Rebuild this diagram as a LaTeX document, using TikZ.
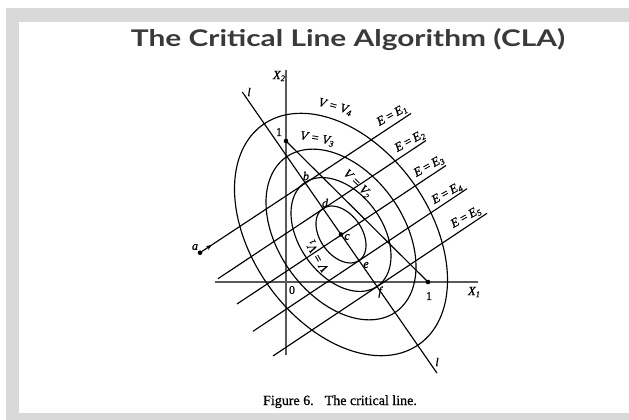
\documentclass[tikz,border=0pt]{standalone}
\usepackage{fontspec}
\setmainfont{Liberation Serif}
\newfontfamily\titlefont{Lato}
\newfontfamily\lblfont{Liberation Serif}[FakeBold=0.8]
\newfontfamily\capfont{Liberation Serif}[FakeBold=0.7]
\usetikzlibrary{arrows.meta,decorations.markings,calc}
\definecolor{framegray}{HTML}{D9D9D9}
\definecolor{titlegray}{HTML}{3A3A3A}
\newcommand{\lsub}[1]{\raisebox{-0.35ex}{\fontsize{8.5}{9}\selectfont #1}}
\begin{document}
\begin{tikzpicture}[x=1pt,y=-1pt,
  curve/.style={line width=1.15pt, black},
  axisline/.style={line width=1.2pt, black!65},
  lbl/.style={font=\lblfont\itshape\fontsize{12.5}{13}\selectfont, inner sep=0.5pt},
  elbl/.style={font=\lblfont\itshape\fontsize{12.5}{14}\selectfont, inner sep=0.5pt, rotate=29},
  ptlbl/.style={font=\lblfont\itshape\fontsize{12}{13}\selectfont, inner sep=0.5pt},
  numlbl/.style={font=\lblfont\fontsize{12}{13}\selectfont, inner sep=0.5pt},
  dot/.style={circle, fill=black, inner sep=0pt, minimum size=4.6pt},
]
\useasboundingbox (0,0) rectangle (629,420);
\fill[framegray] (6,8) rectangle (629,420);
\fill[white] (19,22) rectangle (629,413);

% title
\node[text=titlegray, anchor=base, inner sep=0pt] (title) at (348,47)
  {\resizebox{434pt}{18pt}{\titlefont\bfseries The Critical Line Algorithm (CLA)}};

% key points
\coordinate (O) at (286,282);
\coordinate (c) at (341,234.5);
\coordinate (b) at (305,182.5);
\coordinate (d) at (323,208.5);
\coordinate (e) at (359,260.5);
\coordinate (f) at (377,286.5);
\coordinate (ltop) at (242.3,92);
\coordinate (lbot) at (436.9,373);
\coordinate (X2top) at (286,70);
\coordinate (X2bot) at (286,355);
\coordinate (X1left) at (215,282);
\coordinate (X1right) at (478,282);
\coordinate (one2) at (286,141);
\coordinate (one1) at (428,282);
\coordinate (a) at (200,252.7);
\coordinate (E1r) at (411,113.5);
\coordinate (E2l) at (218,278.7);
\coordinate (E2r) at (426,140.5);
\coordinate (E3l) at (237,304);
\coordinate (E3r) at (446,165.5);
\coordinate (E4l) at (253,331.3);
\coordinate (E4r) at (467,188.7);
\coordinate (E5l) at (273,356);
\coordinate (E5r) at (487,213.3);

% axes
\draw[axisline] (X2bot) -- (X2top);
\draw[axisline] (X1left) -- (X1right);

% iso-variance ellipses
\foreach \s in {0.5,1,1.5,2.13}{
  \draw[curve] plot[domain=0:357, samples=120, smooth cycle, variable=\t]
    ({341+\s*(36*cos(\t)+34.7*sin(\t))},{234.5+\s*(52*cos(\t)-23.1*sin(\t))});
}

% budget line and critical line
\draw[curve] (one2) -- (one1);
\draw[curve] (ltop) -- (lbot);

% iso-mean lines
\draw[curve, postaction={decorate}, decoration={markings,
  mark=at position 0.055 with {\arrow{Stealth[length=5.5pt,width=4.5pt]}}}]
  (a) -- (E1r);
\draw[curve] (E2l) -- (E2r);
\draw[curve] (E3l) -- (E3r);
\draw[curve] (E4l) -- (E4r);
\draw[curve] (E5l) -- (E5r);
\node[elbl] (labE1) at (392,115.5) {E\,=\,E\lsub{1}};
\node[elbl] (labE2) at (410,141.5) {E\,=\,E\lsub{2}};
\node[elbl] (labE3) at (429,166.5) {E\,=\,E\lsub{3}};
\node[elbl] (labE4) at (447,193.5) {E\,=\,E\lsub{4}};
\node[elbl] (labE5) at (466,217.5) {E\,=\,E\lsub{5}};

% dots
\node[dot] (adot) at (a) {};
\node[dot] (cdot) at (c) {};
\node[dot] (one2dot) at (one2) {};
\node[dot] (one1dot) at (one1) {};

% labels
\node[lbl] (labX2) at (279,76) {X\lsub{2}};
\node[lbl] (labX1) at (474,292) {X\lsub{1}};
\node[numlbl] (lab0) at (292,290) {0};
\node[numlbl] (lab1a) at (279,132) {1};
\node[numlbl] (lab1b) at (429,296) {1};
\node[ptlbl] (laba) at (195,247) {a};
\node[ptlbl] (labb) at (306,176) {b};
\node[ptlbl] (labd) at (325,203) {d};
\node[ptlbl] (labc) at (347,237) {c};
\node[ptlbl] (labe) at (366,265) {e};
\node[ptlbl] (labf) at (380,292) {f};
\node[ptlbl] (labltop) at (249,92) {l};
\node[ptlbl] (lablbot) at (437,362) {l};
\node[lbl, rotate=-15] (labV4) at (335,107) {V = V\lsub{4}};
\node[lbl, rotate=-10] (labV3) at (317,139) {V = V\lsub{3}};
\node[lbl, rotate=-45] (labV2) at (357,184) {V = V\lsub{2}};
\node[lbl, rotate=120] (labV1) at (318,256) {V = V\lsub{1}};

% caption
\node[font=\capfont\fontsize{14}{16}\selectfont, anchor=base, inner sep=0pt] (cap) at (340,405)
  {Figure 6.\hspace{11pt}The critical line.};
\end{tikzpicture}
\end{document}
